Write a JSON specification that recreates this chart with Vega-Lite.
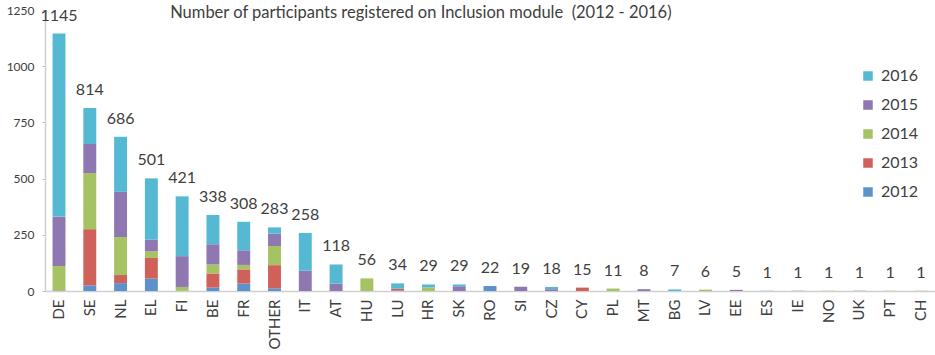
{
  "$schema": "https://vega.github.io/schema/vega-lite/v6.json",
  "width": 890,
  "height": 281,
  "autosize": "none",
  "padding": {"left": 45, "top": 10, "right": 0, "bottom": 64},
  "background": "white",
  "config": {
    "view": {"stroke": null},
    "font": "Lato",
    "axis": {"labelFont": "Lato", "labelColor": "#404040", "domainColor": "#bfbfbf", "tickColor": "#bfbfbf"}
  },
  "title": {
    "text": "Number of participants registered on Inclusion module\u00a0 (2012 - 2016)",
    "anchor": "start",
    "dx": 164,
    "dy": 21,
    "fontSize": 16.5,
    "fontWeight": "normal",
    "font": "Lato",
    "color": "#404040"
  },
  "data": {
    "values": [
      {"country": "DE", "year": "2012", "n": 1},
      {"country": "DE", "year": "2013", "n": 2},
      {"country": "DE", "year": "2014", "n": 108},
      {"country": "DE", "year": "2015", "n": 220},
      {"country": "DE", "year": "2016", "n": 814},
      {"country": "SE", "year": "2012", "n": 25},
      {"country": "SE", "year": "2013", "n": 250},
      {"country": "SE", "year": "2014", "n": 250},
      {"country": "SE", "year": "2015", "n": 129},
      {"country": "SE", "year": "2016", "n": 160},
      {"country": "NL", "year": "2012", "n": 35},
      {"country": "NL", "year": "2013", "n": 36},
      {"country": "NL", "year": "2014", "n": 169},
      {"country": "NL", "year": "2015", "n": 201},
      {"country": "NL", "year": "2016", "n": 245},
      {"country": "EL", "year": "2012", "n": 55},
      {"country": "EL", "year": "2013", "n": 92},
      {"country": "EL", "year": "2014", "n": 29},
      {"country": "EL", "year": "2015", "n": 52},
      {"country": "EL", "year": "2016", "n": 273},
      {"country": "FI", "year": "2013", "n": 1},
      {"country": "FI", "year": "2014", "n": 17},
      {"country": "FI", "year": "2015", "n": 137},
      {"country": "FI", "year": "2016", "n": 266},
      {"country": "BE", "year": "2012", "n": 15},
      {"country": "BE", "year": "2013", "n": 63},
      {"country": "BE", "year": "2014", "n": 40},
      {"country": "BE", "year": "2015", "n": 90},
      {"country": "BE", "year": "2016", "n": 130},
      {"country": "FR", "year": "2012", "n": 33},
      {"country": "FR", "year": "2013", "n": 63},
      {"country": "FR", "year": "2014", "n": 20},
      {"country": "FR", "year": "2015", "n": 65},
      {"country": "FR", "year": "2016", "n": 127},
      {"country": "OTHER", "year": "2012", "n": 12},
      {"country": "OTHER", "year": "2013", "n": 103},
      {"country": "OTHER", "year": "2014", "n": 85},
      {"country": "OTHER", "year": "2015", "n": 55},
      {"country": "OTHER", "year": "2016", "n": 28},
      {"country": "IT", "year": "2015", "n": 90},
      {"country": "IT", "year": "2016", "n": 168},
      {"country": "AT", "year": "2015", "n": 33},
      {"country": "AT", "year": "2016", "n": 85},
      {"country": "HU", "year": "2014", "n": 56},
      {"country": "LU", "year": "2012", "n": 2},
      {"country": "LU", "year": "2013", "n": 8},
      {"country": "LU", "year": "2016", "n": 24},
      {"country": "HR", "year": "2014", "n": 16},
      {"country": "HR", "year": "2016", "n": 13},
      {"country": "SK", "year": "2015", "n": 21},
      {"country": "SK", "year": "2016", "n": 8},
      {"country": "RO", "year": "2012", "n": 22},
      {"country": "SI", "year": "2015", "n": 19},
      {"country": "CZ", "year": "2015", "n": 8},
      {"country": "CZ", "year": "2016", "n": 10},
      {"country": "CY", "year": "2013", "n": 15},
      {"country": "PL", "year": "2014", "n": 11},
      {"country": "MT", "year": "2015", "n": 8},
      {"country": "BG", "year": "2016", "n": 7},
      {"country": "LV", "year": "2014", "n": 6},
      {"country": "EE", "year": "2015", "n": 5},
      {"country": "ES", "year": "2016", "n": 1},
      {"country": "IE", "year": "2015", "n": 1},
      {"country": "NO", "year": "2014", "n": 1},
      {"country": "UK", "year": "2013", "n": 1},
      {"country": "PT", "year": "2014", "n": 1},
      {"country": "CH", "year": "2014", "n": 1}
    ]
  },
  "encoding": {
    "x": {
      "field": "country",
      "type": "nominal",
      "sort": ["DE","SE","NL","EL","FI","BE","FR","OTHER","IT","AT","HU","LU","HR","SK","RO","SI","CZ","CY","PL","MT","BG","LV","EE","ES","IE","NO","UK","PT","CH"],
      "scale": {"paddingInner": 0.58, "paddingOuter": 0.245},
      "axis": {"title": null, "labelAngle": -90, "labelFontSize": 15, "ticks": false, "labelPadding": 8, "domainColor": "#d0d0d0", "domainWidth": 1.5}
    }
  },
  "layer": [
    {
      "mark": {"type": "bar"},
      "encoding": {
        "y": {
          "field": "n",
          "type": "quantitative",
          "aggregate": "sum",
          "stack": "zero",
          "scale": {"domain": [0, 1250], "nice": false},
          "axis": {"title": null, "values": [0, 250, 500, 750, 1000, 1250], "format": "d", "grid": false, "labelFontSize": 12, "tickSize": 3, "labelPadding": 8, "domainColor": "#d0d0d0", "domainWidth": 1.5}
        },
        "color": {
          "field": "year",
          "type": "nominal",
          "scale": {
            "domain": ["2016", "2015", "2014", "2013", "2012"],
            "range": ["#56b9d3", "#8f77b2", "#a6c364", "#cf615a", "#5b92cb"]
          },
          "legend": {
            "title": null,
            "orient": "none",
            "legendX": 815,
            "legendY": 58,
            "symbolType": "square",
            "symbolSize": 90,
            "symbolStrokeWidth": 0,
            "labelFontSize": 16,
            "labelColor": "#404040",
            "labelFont": "Lato",
            "rowPadding": 13,
            "labelOffset": 5
          }
        },
        "order": {"field": "year", "type": "ordinal", "sort": "ascending"}
      }
    },
    {
      "mark": {"type": "text", "baseline": "bottom", "dy": -10, "fontSize": 16, "color": "#404040", "font": "Lato"},
      "encoding": {
        "y": {"field": "n", "type": "quantitative", "aggregate": "sum"},
        "text": {"field": "n", "type": "quantitative", "aggregate": "sum"}
      }
    }
  ]
}
